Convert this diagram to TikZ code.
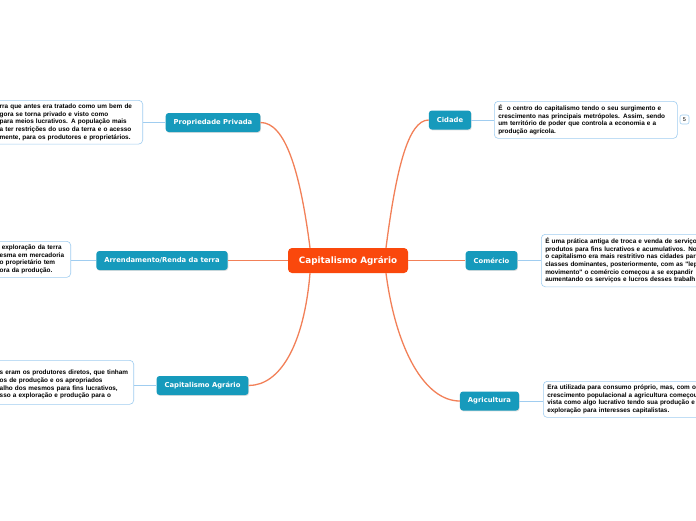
\documentclass[tikz,border=0pt]{standalone}
\usepackage{fontspec}
\newfontfamily\notefont{Liberation Sans}
\newfontfamily\topicfont{DejaVu Sans}
\usetikzlibrary{shadows,calc}
\definecolor{centralc}{RGB}{250,72,12}
\definecolor{topicc}{RGB}{22,154,188}
\definecolor{notebd}{RGB}{160,205,240}
\definecolor{orangeln}{RGB}{242,128,88}
\definecolor{blueln}{RGB}{160,205,240}
\begin{document}
\begin{tikzpicture}[x=1pt,y=-1pt,
 centralbox/.style={fill=centralc, rounded corners=4pt, minimum width=120pt, minimum height=25pt, text=white, font=\topicfont\bfseries\fontsize{8.8}{10}\selectfont, inner sep=0pt},
 topicbox/.style={fill=topicc, rounded corners=3pt, minimum height=19pt, inner xsep=8pt, inner ysep=0pt, text=white, font=\topicfont\bfseries\fontsize{6.8}{8}\selectfont, drop shadow={opacity=0.25, shadow xshift=0.6pt, shadow yshift=-0.9pt}},
 notebox/.style={draw=notebd, fill=white, rounded corners=4pt, line width=0.6pt, align=left, inner xsep=4pt, inner ysep=3.5pt, font=\notefont\bfseries\fontsize{6.4}{7.7}\selectfont, text=black},
 badge/.style={draw=notebd, fill=white, rounded corners=2pt, line width=0.6pt, minimum width=9pt, minimum height=9pt, inner sep=0pt, font=\notefont\fontsize{5.5}{6}\selectfont},
 mainln/.style={draw=orangeln, line width=1.3pt},
 subln/.style={draw=blueln, line width=0.8pt}]
\useasboundingbox[fill=white] (0,0) rectangle (696,520);

% central
\node[centralbox] (c) at (348,260.5) {Capitalismo Agrário};

% topics
\node[topicbox] (pp) at (213,122.5) {Propriedade Privada};
\node[topicbox] (cid) at (450,120) {Cidade};
\node[topicbox] (arr) at (162,260.5) {Arrendamento/Renda da terra};
\node[topicbox] (com) at (491.5,260.5) {Comércio};
\node[topicbox] (cap) at (202.5,385.5) {Capitalismo Agrário};
\node[topicbox] (agr) at (489.5,401) {Agricultura};

% notes
\node[notebox, anchor=north east, text width=139pt] (npp) at (143,100)
 {rra que antes era tratado como um bem de\\
  gora se torna privado e visto como\\
  para meios lucrativos. A população mais\\
  a ter restrições do uso da terra e o acesso\\
  mente, para os produtores e proprietários.};
\node[notebox, anchor=north west, text width=175pt] (ncid) at (494,101)
 {É\ \ o centro do capitalismo tendo o seu surgimento e\\
  crescimento nas principais metrópoles. Assim, sendo\\
  um território de poder que controla a economia e a\\
  produção agrícola.};
\node[badge] (b5) at (684.5,119.5) {5};
\node[notebox, anchor=north east, text width=67pt] (narr) at (71,241)
 {\ exploração da terra\\
  esma em mercadoria\\
  o proprietário tem\\
  ora da produção.};
\node[notebox, anchor=north west, text width=200pt] (ncom) at (541,234)
 {É uma prática antiga de troca e venda de serviços\\
  produtos para fins lucrativos e acumulativos. No\\
  o capitalismo era mais restritivo nas cidades par\\
  classes dominantes, posteriormente, com as "lep\\
  movimento" o comércio começou a se expandir\\
  aumentando os serviços e lucros desses trabalh};
\node[notebox, anchor=north east, text width=130pt, minimum height=44pt, text depth=20pt] (ncap) at (134,360)
 {s eram os produtores diretos, que tinham\\
  os de produção e os apropriados\\
  alho dos mesmos para fins lucrativos,\\
  sso a exploração e produção para o};
\node[notebox, anchor=north west, text width=200pt] (nagr) at (543,381)
 {Era utilizada para consumo próprio, mas, com o\\
  crescimento populacional a agricultura começou\\
  vista como algo lucrativo tendo sua produção e\\
  exploração para interesses capitalistas.};

% main connectors
\draw[mainln] ($(c.north)+(-38,0)$) .. controls (300,170) and (285,122.5) .. (pp.east);
\draw[mainln] ($(c.north)+(38,0)$) .. controls (396,170) and (408,120) .. (cid.west);
\draw[mainln] (c.west) -- (arr.east);
\draw[mainln] (c.east) -- (com.west);
\draw[mainln] ($(c.south)+(-38,0)$) .. controls (304,345) and (280,385.5) .. (cap.east);
\draw[mainln] ($(c.south)+(38,0)$) .. controls (396,350) and (425,401) .. (agr.west);

% sub connectors
\draw[subln] (pp.west) -- (npp.east |- pp.west);
\draw[subln] (cid.east) -- (ncid.west |- cid.east);
\draw[subln] (arr.west) -- (narr.east |- arr.west);
\draw[subln] (com.east) -- (ncom.west |- com.east);
\draw[subln] (cap.west) -- (ncap.east |- cap.west);
\draw[subln] (agr.east) -- (nagr.west |- agr.east);
\end{tikzpicture}
\end{document}
